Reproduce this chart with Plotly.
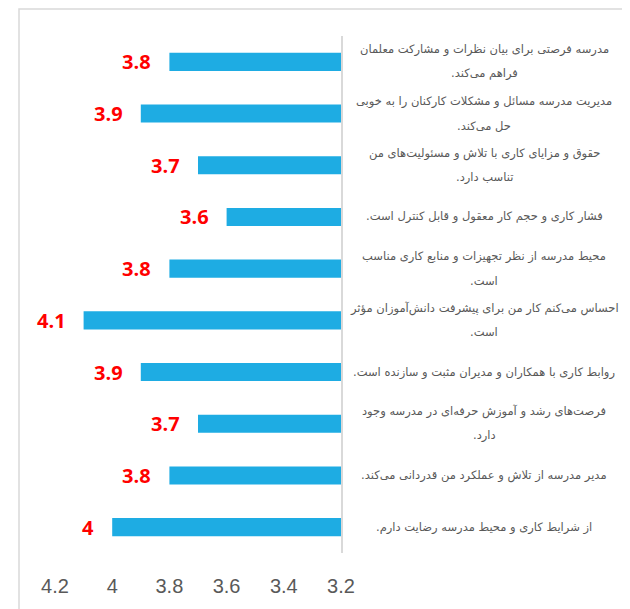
import plotly.graph_objects as go

label_lines = [
    ["مدرسه فرصتی برای بیان نظرات و مشارکت معلمان", "فراهم می‌کند."],
    ["مدیریت مدرسه مسائل و مشکلات کارکنان را به خوبی", "حل می‌کند."],
    ["حقوق و مزایای کاری با تلاش و مسئولیت‌های من", "تناسب دارد."],
    ["فشار کاری و حجم کار معقول و قابل کنترل است."],
    ["محیط مدرسه از نظر تجهیزات و منابع کاری مناسب", "است."],
    ["احساس می‌کنم کار من برای پیشرفت دانش‌آموزان مؤثر", "است."],
    ["روابط کاری با همکاران و مدیران مثبت و سازنده است."],
    ["فرصت‌های رشد و آموزش حرفه‌ای در مدرسه وجود", "دارد."],
    ["مدیر مدرسه از تلاش و عملکرد من قدردانی می‌کند."],
    ["از شرایط کاری و محیط مدرسه رضایت دارم."],
]
values = [3.8, 3.9, 3.7, 3.6, 3.8, 4.1, 3.9, 3.7, 3.8, 4.0]
tick_vals = [4.2, 4.0, 3.8, 3.6, 3.4, 3.2]
tick_text = ["4.2", "4", "3.8", "3.6", "3.4", "3.2"]

RLM = "\u200f"
categories = [" ".join(l) for l in label_lines]

fig = go.Figure(go.Bar(
    x=values, y=categories, orientation="h",
    marker=dict(color="#1EACE3", line=dict(width=0)),
    hoverinfo="skip",
))

annotations = []
for cat, v in zip(categories, values):
    annotations.append(dict(
        x=v, y=cat, xref="x", yref="y", text="<b>%g</b>" % v,
        showarrow=False, xanchor="right", xshift=-16,
        font=dict(family="Open Sans", size=20, color="#FF0000"),
    ))

for cat, lines in zip(categories, label_lines):
    n = len(lines)
    for i, line in enumerate(lines):
        off = (n - 1) / 2 - i
        annotations.append(dict(
            x=1, y=cat, xref="paper", yref="y", text=RLM + line + RLM,
            showarrow=False, xanchor="center", xshift=143,
            yshift=off * 24,
            font=dict(family="DejaVu Sans", size=11.5, color="#595959"),
        ))

fig.update_layout(
    width=630, height=609,
    margin=dict(l=47, r=297, t=28, b=64),
    paper_bgcolor="white", plot_bgcolor="white",
    showlegend=False,
    bargap=0.65,
    annotations=annotations,
    xaxis=dict(
        range=[4.2, 3.2], tickvals=tick_vals, ticktext=tick_text,
        showgrid=False, zeroline=False, showline=False, ticks="",
        ticklabelstandoff=19,
        tickfont=dict(family="Liberation Sans", size=20, color="#595959"),
    ),
    yaxis=dict(
        side="right", autorange="reversed", showticklabels=False,
        showgrid=False, zeroline=False, showline=True,
        linecolor="#D9D9D9", linewidth=2, ticks="",
    ),
    shapes=[dict(
        type="rect", xref="paper", yref="paper",
        x0=-0.1259, x1=3, y0=-1, y1=1.0522,
        line=dict(color="#D9D9D9", width=1.5), fillcolor="rgba(0,0,0,0)",
        layer="below",
    )],
)

fig.write_html("out.html")
